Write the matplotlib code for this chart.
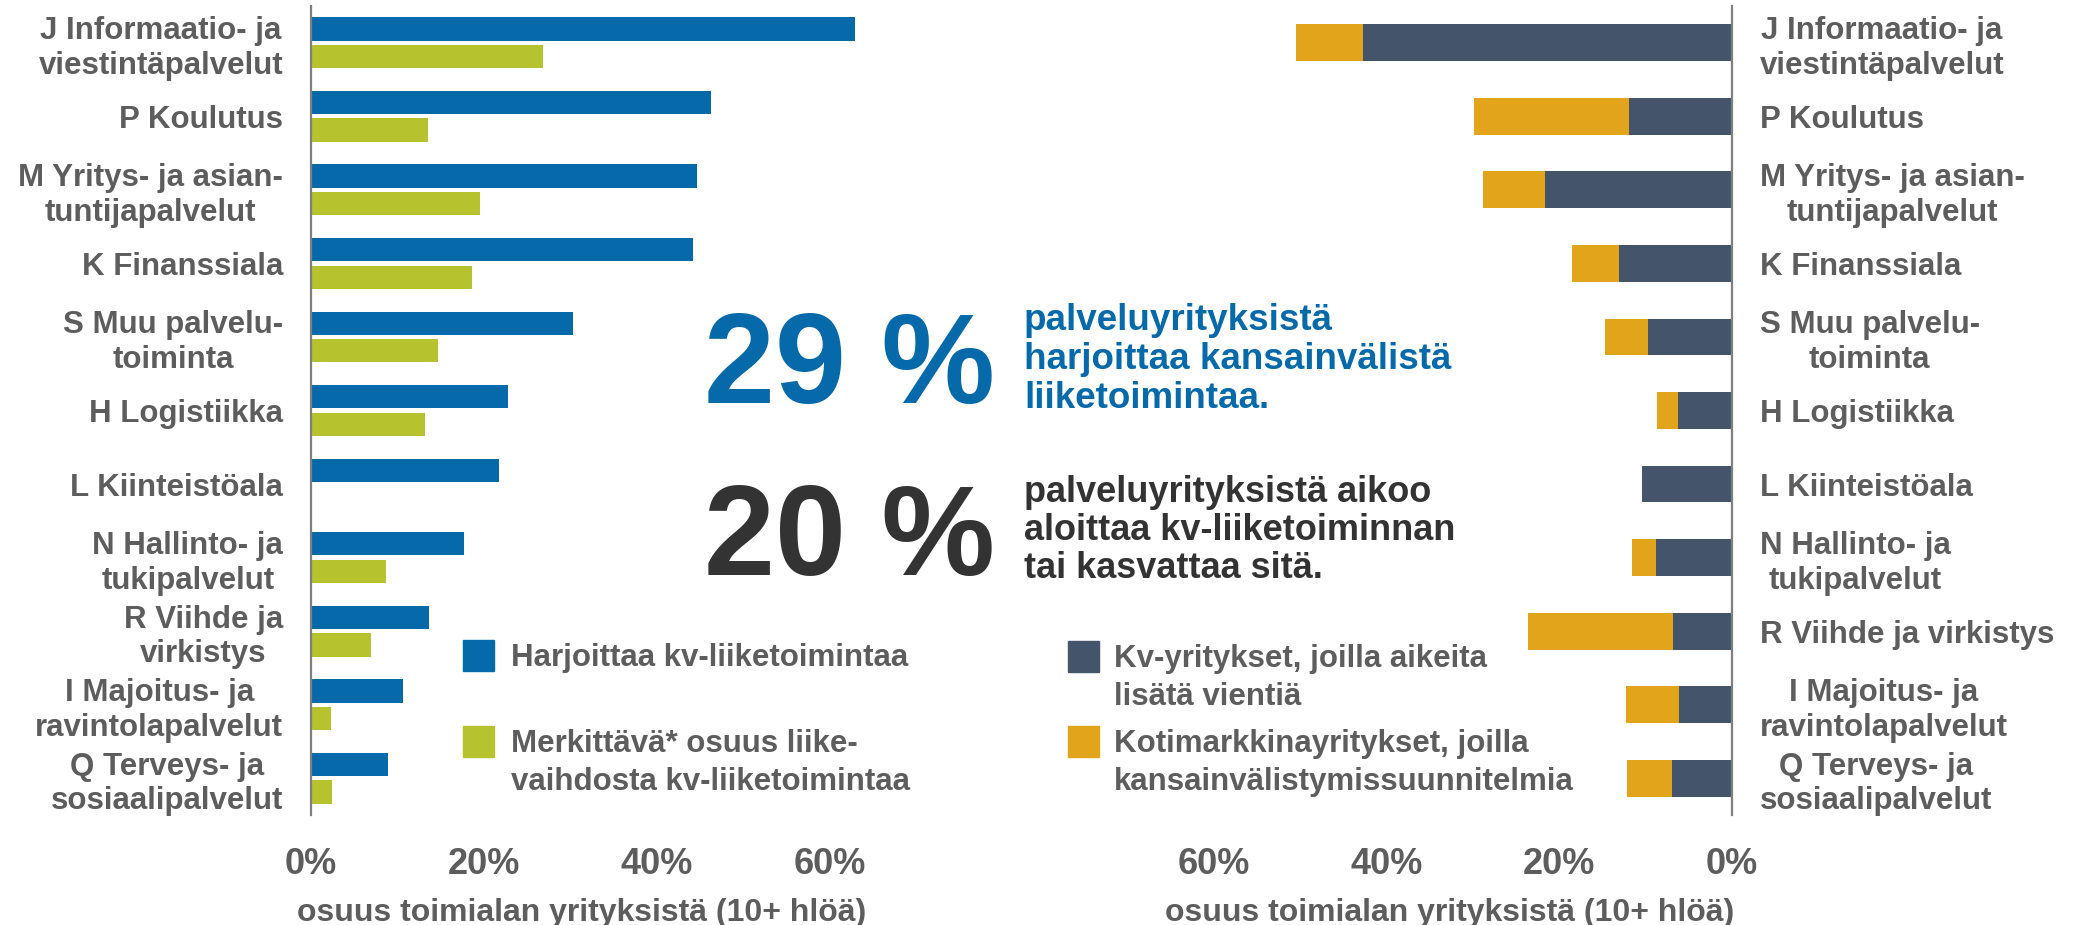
import numpy as np
import matplotlib.pyplot as plt
from matplotlib.patches import Rectangle
from matplotlib.ticker import FuncFormatter

plt.rcParams['font.family'] = ['Liberation Sans', 'DejaVu Sans']
plt.rcParams['font.weight'] = 'bold'

# data (osuus toimialan yrityksistä, %)
left_labels = ["J Informaatio- ja\nviestintäpalvelut", "P Koulutus",
               "M Yritys- ja asian-\ntuntijapalvelut", "K Finanssiala",
               "S Muu palvelu-\ntoiminta", "H Logistiikka", "L Kiinteistöala",
               "N Hallinto- ja\ntukipalvelut", "R Viihde ja\nvirkistys",
               "I Majoitus- ja\nravintolapalvelut", "Q Terveys- ja\nsosiaalipalvelut"]
right_labels = ["J Informaatio- ja\nviestintäpalvelut", "P Koulutus",
                "M Yritys- ja asian-\ntuntijapalvelut", "K Finanssiala",
                "S Muu palvelu-\ntoiminta", "H Logistiikka", "L Kiinteistöala",
                "N Hallinto- ja\ntukipalvelut", "R Viihde ja virkistys",
                "I Majoitus- ja\nravintolapalvelut", "Q Terveys- ja\nsosiaalipalvelut"]
harjoittaa = [62.9, 46.3, 44.7, 44.2, 30.3, 22.8, 21.7, 17.7, 13.6, 10.6, 8.9]
merkittava = [26.9, 13.5, 19.5, 18.6, 14.7, 13.2, 0, 8.7, 6.9, 2.3, 2.4]
vienti = [42.7, 11.9, 21.6, 13.1, 9.7, 6.2, 10.4, 8.8, 6.8, 6.1, 7.0]
kotimarkkina = [7.7, 17.9, 7.2, 5.4, 5.0, 2.5, 0, 2.8, 16.8, 6.2, 5.2]
xticks = [0, 20, 40, 60]

BLUE = '#0569aa'
GREEN = '#b6c32e'
SLATE = '#44546a'
ORANGE = '#e2a41a'
GRAY = '#5d5d5d'
DARK = '#333333'

W, H = 2083, 925
fig = plt.figure(figsize=(W / 100, H / 100), dpi=100)


def box(x0, y0, x1, y1):
    return [x0 / W, 1 - y1 / H, (x1 - x0) / W, (y1 - y0) / H]


def fx(x):
    return x / W


def fy(y):
    return 1 - y / H


def lines(x, y0, step, txt, **kw):
    # one text per line, baselines given in pixels from top
    for i, line in enumerate(txt.split("\n")):
        fig.text(fx(x), fy(y0 + i * step), line, va='baseline', **kw)


ax1 = fig.add_axes(box(311, 6, 916, 815))
ax2 = fig.add_axes(box(1127, 6, 1732, 815))

y = np.arange(len(left_labels))
ax1.barh(y - 0.1875, harjoittaa, height=0.317, color=BLUE)
ax1.barh(y + 0.1875, merkittava, height=0.317, color=GREEN)
ax1.set_xlim(0, 70)

ax2.barh(y, vienti, height=0.5, color=SLATE)
ax2.barh(y, kotimarkkina, left=vienti, height=0.5, color=ORANGE)
ax2.set_xlim(70, 0)

pct = FuncFormatter(lambda v, p: f"{v:.0f}%")
for ax, side in ((ax1, 'left'), (ax2, 'right')):
    ax.set_ylim(10.5, -0.5)
    for s in ax.spines.values():
        s.set_visible(False)
    ax.spines[side].set_visible(True)
    ax.spines[side].set_color('#7f7f7f')
    ax.spines[side].set_linewidth(1.6)
    ax.set_xticks(xticks)
    ax.xaxis.set_major_formatter(pct)
    ax.tick_params(axis='x', length=0, pad=23, labelsize=26, labelcolor=GRAY)
    ax.tick_params(axis='y', length=0, pad=20, labelsize=22.5, labelcolor=GRAY)
    ax.set_yticks(y)

ax1.set_yticklabels(left_labels, ma='center', linespacing=1.2)
ax2.yaxis.tick_right()
ax2.set_yticklabels(right_labels, ma='center', linespacing=1.2)

fig.text(fx(582), fy(921), "osuus toimialan yrityksistä (10+ hlöä)", ha='center',
         va='baseline', fontsize=23, color=GRAY)
fig.text(fx(1450), fy(921), "osuus toimialan yrityksistä (10+ hlöä)", ha='center',
         va='baseline', fontsize=23, color=GRAY)

# big numbers
fig.text(fx(704), fy(403), "29 %", fontsize=92, color=BLUE, va='baseline')
lines(1024, 330, 39, "palveluyrityksistä\nharjoittaa kansainvälistä\nliiketoimintaa.",
      fontsize=26.5, color=BLUE)
fig.text(fx(704), fy(575), "20 %", fontsize=92, color=DARK, va='baseline')
lines(1024, 502, 38, "palveluyrityksistä aikoo\naloittaa kv-liiketoiminnan\ntai kasvattaa sitä.",
      fontsize=26, color=DARK)

# legends
legend_items = [
    (463, 640, BLUE, 511, "Harjoittaa kv-liiketoimintaa"),
    (463, 726, GREEN, 511, "Merkittävä* osuus liike-\nvaihdosta kv-liiketoimintaa"),
    (1068, 641, SLATE, 1114, "Kv-yritykset, joilla aikeita\nlisätä vientiä"),
    (1068, 726, ORANGE, 1114, "Kotimarkkinayritykset, joilla\nkansainvälistymissuunnitelmia"),
]
for sx, sy, col, tx, txt in legend_items:
    fig.add_artist(Rectangle((fx(sx), fy(sy + 31)), 31 / W, 31 / H, color=col,
                             transform=fig.transFigure))
    lines(tx, sy + 26, 38.3, txt, fontsize=22.5, color=GRAY)

fig.savefig("out.png", dpi=100)
